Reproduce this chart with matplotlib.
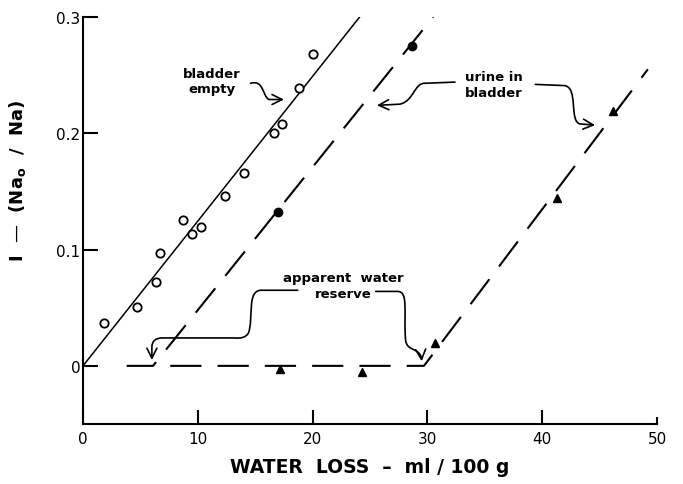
import matplotlib
matplotlib.use("Agg")
import matplotlib.pyplot as plt
from matplotlib.path import Path
from matplotlib.patches import FancyArrowPatch

plt.rcParams['font.family'] = ['DejaVu Sans']
plt.rcParams['mathtext.fontset'] = 'dejavusans'

# open circles: bladder empty
empty_x = [1.8, 4.7, 6.4, 6.7, 8.7, 9.5, 10.3, 12.4, 14.0, 16.6, 17.3, 18.8, 20.0]
empty_y = [0.037, 0.051, 0.072, 0.097, 0.125, 0.113, 0.119, 0.146, 0.166,
           0.200, 0.208, 0.239, 0.268]

# filled circles: urine in bladder
urine_x = [17.0, 28.7]
urine_y = [0.132, 0.275]

# triangles: apparent water reserve
reserve_x = [17.2, 24.3, 30.7, 41.3, 46.2]
reserve_y = [-0.003, -0.005, 0.020, 0.144, 0.219]

# drawn lines
line_empty_x = [0, 24.1]
line_empty_y = [0, 0.3]
line_urine_x = [3.8, 6.1, 30.5]
line_urine_y = [0, 0, 0.3]
line_reserve_x = [7.6, 29.7, 49.2]
line_reserve_y = [0, 0, 0.255]

xticks = [0, 10, 20, 30, 40, 50]
yticks = [0, 0.1, 0.2, 0.3]
ytick_labels = ['0', '0.1', '0.2', '0.3']

fig = plt.figure(figsize=(6.83, 4.85), dpi=100)
ax = fig.add_axes([0.1215, 0.1237, 0.8405, 0.8393])

ax.plot(line_empty_x, line_empty_y, color='black', lw=1.1)
ax.plot(line_urine_x, line_urine_y, color='black', lw=1.5, dashes=(15, 7.7))
ax.plot(line_reserve_x, line_reserve_y, color='black', lw=1.5, dashes=(15, 7.7))

ax.plot(empty_x, empty_y, 'o', ms=6, mfc='white', mec='black', mew=1.3)
ax.plot(urine_x, urine_y, 'o', ms=6, color='black')
ax.plot(reserve_x, reserve_y, '^', ms=6, color='black')

ax.set_xlim(0, 50)
ax.set_ylim(-0.05, 0.3)
ax.spines['top'].set_visible(False)
ax.spines['right'].set_visible(False)
ax.spines['left'].set_linewidth(1.5)
ax.spines['bottom'].set_linewidth(1.5)
ax.spines['left'].set_bounds(-0.05, 0.3)

ax.set_xticks(xticks)
ax.set_yticks(yticks)
ax.set_yticklabels(ytick_labels)
ax.tick_params(direction='in', width=1.5, labelsize=11, pad=3)
ax.tick_params(axis='x', length=10, pad=5)
ax.tick_params(axis='y', length=11, pad=2)
ax.xaxis.get_major_ticks()[-1].tick1line.set_markersize(5)

ax.set_xlabel('WATER  LOSS  –  ml / 100 g', fontsize=13.5, fontweight='bold',
              labelpad=8)
ax.set_ylabel('I  —  (Na$_\\mathbf{o}$  /  Na)', fontsize=13, fontweight='bold')
ax.yaxis.set_label_coords(-0.095, 0.6)

tkw = dict(fontsize=9.5, fontweight='bold', ha='center', va='center',
           linespacing=1.25)
ax.text(11.2, 0.245, 'bladder\nempty', **tkw)
ax.text(35.8, 0.242, 'urine in\nbladder', **tkw)
ax.text(22.7, 0.069, 'apparent  water\nreserve', **tkw)


def curly(pts, codes):
    p = FancyArrowPatch(path=Path(pts, codes),
                        arrowstyle='->,head_length=0.6,head_width=0.3',
                        mutation_scale=12, lw=1.2, color='black')
    ax.add_patch(p)


M, L, C, B = Path.MOVETO, Path.LINETO, Path.CURVE3, Path.CURVE4

# bladder empty
curly([(14.6, 0.243), (15.8, 0.246), (15.6, 0.232), (16.2, 0.229),
       (17.5, 0.229)],
      [M, B, B, B, L])

# urine in bladder, left
curly([(32.4, 0.244), (29.9, 0.243), (28.8, 0.244), (28.9, 0.228),
       (27.6, 0.225), (25.6, 0.224)],
      [M, L, B, B, B, L])
# urine in bladder, right
curly([(39.4, 0.242), (41.9, 0.241), (43.2, 0.240), (42.3, 0.210),
       (43.3, 0.208), (44.6, 0.207)],
      [M, L, B, B, B, L])

# apparent water reserve, left
curly([(18.7, 0.065), (15.6, 0.065), (14.2, 0.066), (14.9, 0.040),
       (14.4, 0.028), (14.1, 0.023), (13.2, 0.024), (6.9, 0.024),
       (6.0, 0.024), (6.0, 0.016), (6.0, 0.005)],
      [M, L, B, B, B, C, C, L, C, C, L])
# apparent water reserve, right
curly([(25.5, 0.064), (27.4, 0.064), (28.4, 0.064), (27.9, 0.045),
       (28.1, 0.022), (28.2, 0.012), (29.4, 0.016), (29.5, 0.004)],
      [M, L, B, B, B, B, B, B])

fig.savefig('out.png', dpi=100)
